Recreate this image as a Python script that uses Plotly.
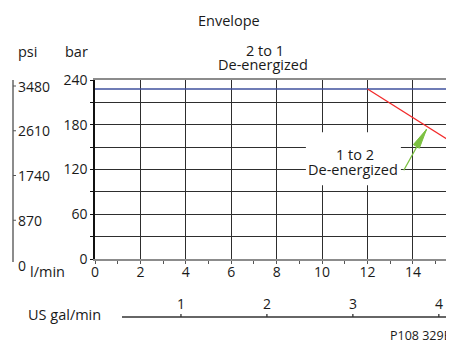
import plotly.graph_objects as go

# ---------------- data ----------------
FLOW_TICKS = [0, 2, 4, 6, 8, 10, 12, 14, 16]        # l/min
BAR_TICKS = [0, 60, 120, 180, 240]                    # bar
PSI_TICKS = [0, 870, 1740, 2610, 3480]                # psi
GAL_TICKS = [1, 2, 3, 4]                              # US gal/min
LPM_PER_GAL = 3.785
PSI_PER_BAR = 14.5

ENV_21_X = [0, 16]          # 2 to 1 de-energized
ENV_21_Y = [228, 228]
ENV_12_X = [12, 16]         # 1 to 2 de-energized
ENV_12_Y = [228, 151]

ARROW_TIP = (14.6, 174)
ARROW_TAIL = (13.56, 117)
LABEL_12_POS = (11.4, 131)

# ---------------- layout geometry ----------------
# the page body has an 8px margin; all positions below are page pixels
OFF = 8
W, H = 454, 353
ML, MT = 95 - OFF, 80 - OFF
MR = 0
PX_PER_LPM = 22.71
PW = W - ML - MR
PH = 179
MB = H - MT - PH
X_MAX = PW / PX_PER_LPM

FONT = "Open Sans"
TXT = "#1a1a1a"


def px(xp):
    return (xp - OFF - ML) / PW


def py(yp):
    return (H - MB - (yp - OFF)) / PH


fig = go.Figure()

fig.add_trace(go.Scatter(x=ENV_21_X, y=ENV_21_Y, mode="lines",
                         line=dict(color="#3f519e", width=1.6),
                         hoverinfo="skip", showlegend=False))
fig.add_trace(go.Scatter(x=ENV_12_X, y=ENV_12_Y, mode="lines",
                         line=dict(color="#f22a2a", width=1.3),
                         hoverinfo="skip", showlegend=False))

annotations = []
shapes = []


def label(text, x, y, xref="paper", yref="paper", size=14.5, xanchor="center", **kw):
    annotations.append(dict(text=text, x=x, y=y, xref=xref, yref=yref,
                            showarrow=False, xanchor=xanchor, yanchor="middle",
                            font=dict(family=FONT, size=size, color=TXT), **kw))


# titles / unit labels
label("Envelope", px(229), py(20.4))
label("psi", px(27), py(51.5))
label("bar", px(76), py(51.5))
label("2 to 1", px(265), py(50))
label("De-energized", px(263), py(64))
label("l/min", px(47), py(271.4))
label("US gal/min", px(64), py(314.4))
label("P108 329E", px(388), py(335.5), size=12.5, xanchor="left")

# psi secondary axis
shapes.append(dict(type="line", xref="paper", yref="paper",
                   x0=px(13), x1=px(13), y0=py(80), y1=py(262),
                   line=dict(color="#8c8c8c", width=2)))
for p in PSI_TICKS:
    yb = p / PSI_PER_BAR
    label(str(p), px(16), yb, yref="y", size=14, xanchor="left", yshift=-6)
    shapes.append(dict(type="line", xref="paper", yref="y", ysizemode="pixel",
                       yanchor=yb, x0=px(13), x1=px(16), y0=-6, y1=-6,
                       line=dict(color="#555", width=1)))

# US gal/min secondary axis
gal_y = py(317)
shapes.append(dict(type="line", xref="paper", yref="paper",
                   x0=px(122), x1=1.0, y0=gal_y, y1=gal_y,
                   line=dict(color="#333", width=1.3)))
for g in GAL_TICKS:
    xl = g * LPM_PER_GAL
    shapes.append(dict(type="line", xref="x", yref="paper", x0=xl, x1=xl,
                       y0=gal_y, y1=gal_y + 3 / PH, line=dict(color="#333", width=1.3)))
    label(str(g), xl, py(303.5), xref="x", size=14)

# white box behind the "1 to 2" label
shapes.append(dict(type="rect", xref="x", yref="y", xsizemode="pixel", ysizemode="pixel",
                   xanchor=LABEL_12_POS[0], yanchor=LABEL_12_POS[1],
                   x0=-48, x1=47, y0=-24, y1=29, layer="above",
                   fillcolor="white", line=dict(width=0)))
label("1 to 2", LABEL_12_POS[0], LABEL_12_POS[1], xref="x", yref="y", yshift=7, xshift=1)
label("De-energized", LABEL_12_POS[0], LABEL_12_POS[1], xref="x", yref="y", yshift=-8, xshift=-1)

# green arrow: shaft + elongated head
annotations.append(dict(x=ARROW_TIP[0], y=ARROW_TIP[1], ax=ARROW_TAIL[0], ay=ARROW_TAIL[1],
                        xref="x", yref="y", axref="x", ayref="y", text="",
                        showarrow=True, arrowhead=0, arrowwidth=1.3,
                        arrowcolor="#7cc142", standoff=0, startstandoff=0))
shapes.append(dict(type="path", xref="x", yref="y", xsizemode="pixel", ysizemode="pixel",
                   xanchor=ARROW_TIP[0], yanchor=ARROW_TIP[1],
                   path="M0,0 L-7.2,-19 L-13.2,-15.4 Z", layer="above",
                   fillcolor="#7cc142", line=dict(color="#7cc142", width=1)))

GRID = "#2e2e2e"
fig.update_layout(
    width=W, height=H,
    margin=dict(l=ML, r=MR, t=MT, b=MB, pad=0),
    paper_bgcolor="white", plot_bgcolor="white",
    font=dict(family=FONT, size=14, color=TXT),
    showlegend=False,
    xaxis=dict(range=[0, X_MAX], tickmode="array", tickvals=FLOW_TICKS,
               ticktext=[str(v) for v in FLOW_TICKS],
               showgrid=True, gridcolor=GRID, gridwidth=1.3,
               showline=True, linecolor="#8c8c8c", linewidth=2.2, mirror=True,
               ticks="outside", ticklen=3, tickcolor="#555",
               minor=dict(dtick=1, tick0=0, ticks="outside", ticklen=3,
                          tickcolor="#555", showgrid=False),
               ticklabeloverflow="allow", ticklabelstandoff=-4,
               zeroline=False, fixedrange=True, automargin=False,
               tickfont=dict(family=FONT, size=14, color=TXT)),
    yaxis=dict(range=[0, 240], tickmode="array", tickvals=BAR_TICKS,
               ticktext=[str(v) for v in BAR_TICKS],
               showgrid=True, gridcolor=GRID, gridwidth=1.3,
               showline=True, linecolor="#111", linewidth=1.5,
               ticks="outside", ticklen=3, tickcolor="#111",
               minor=dict(dtick=30, tick0=0, ticks="outside", ticklen=3,
                          tickcolor="#111", showgrid=True,
                          gridcolor=GRID, gridwidth=1.3),
               zeroline=False, fixedrange=True, automargin=False,
               tickfont=dict(family=FONT, size=14, color=TXT)),
    annotations=annotations,
    shapes=shapes,
)

fig.write_html("out.html")
